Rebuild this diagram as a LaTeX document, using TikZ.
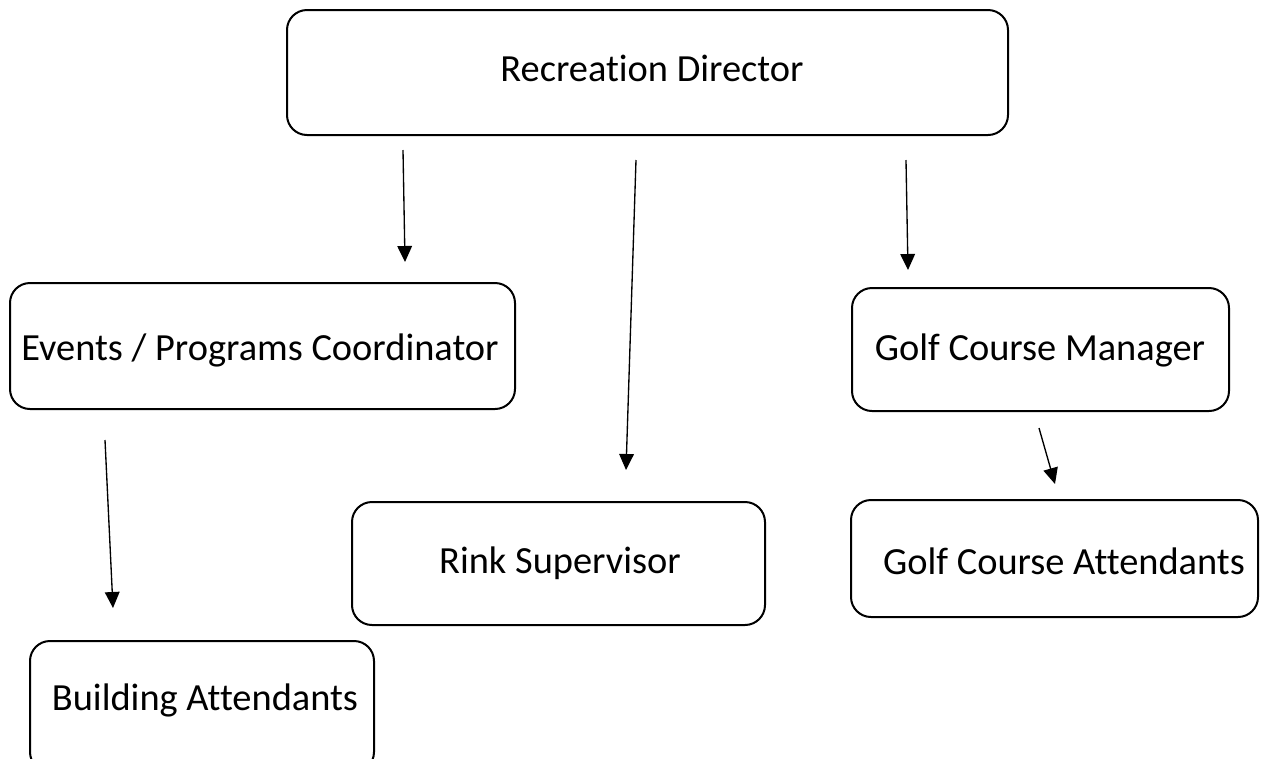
\documentclass[tikz,border=0pt]{standalone}
\usepackage{fontspec}
\setmainfont[Ligatures=NoCommon]{Carlito}
\usetikzlibrary{arrows.meta}
\begin{document}
\begin{tikzpicture}[x=0.75pt,y=-0.75pt,
  box/.style={draw,line width=1.5pt,rounded corners=15pt},
  lbl/.style={font=\fontsize{28.8}{32}\selectfont,anchor=center,inner sep=0pt},
  arr/.style={line width=1pt,-{Triangle[length=12pt,width=11pt]}}]
\useasboundingbox (0,0) rectangle (1272,758);
\draw[box] (287,10) rectangle (1008,135);
\node[lbl] (rd) at (652,68) {Recreation Director};
\draw[box] (10,283) rectangle (515,409);
\node[lbl] (ep) at (260,350) {Events / Programs Coordinator};
\draw[box] (852,288) rectangle (1229,411);
\node[lbl] (gm) at (1040,350) {Golf Course Manager};
\draw[box] (352,502) rectangle (765,625);
\node[lbl] (rs) at (560,563) {Rink Supervisor};
\draw[box] (851,500) rectangle (1258,617);
\node[lbl] (ga) at (1064,561) {Golf Course Attendants};
\draw[box] (30,641) rectangle (374,772);
\node[lbl] (ba) at (205,700) {Building Attendants};
\coordinate (a1s) at (403,150); \coordinate (a1e) at (405,262);
\coordinate (a2s) at (636,160); \coordinate (a2e) at (626,470);
\coordinate (a3s) at (906,160); \coordinate (a3e) at (908,270);
\coordinate (a4s) at (105,440); \coordinate (a4e) at (113,608);
\coordinate (a5s) at (1039,428); \coordinate (a5e) at (1055,484);
\draw[arr] (a1s) -- (a1e);
\draw[arr] (a2s) -- (a2e);
\draw[arr] (a3s) -- (a3e);
\draw[arr] (a4s) -- (a4e);
\draw[arr] (a5s) -- (a5e);
\end{tikzpicture}
\end{document}
